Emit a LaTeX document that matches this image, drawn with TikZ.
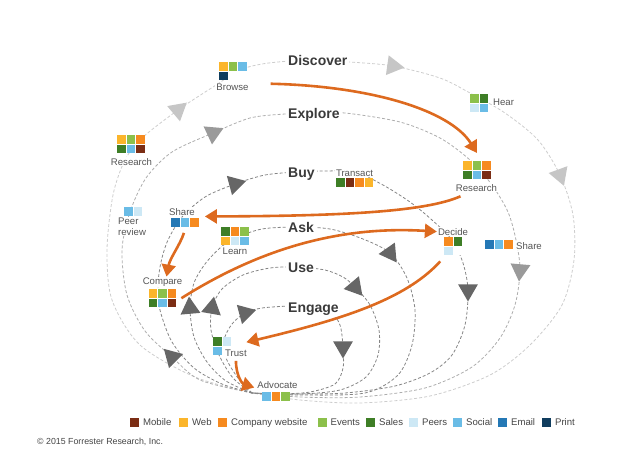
\documentclass[tikz,border=0pt]{standalone}
\usepackage{fontspec}
\setmainfont{Liberation Sans}
\usetikzlibrary{arrows.meta,shapes.geometric,calc,positioning}

\definecolor{cMobile}{HTML}{7B2D14}
\definecolor{cWeb}{HTML}{FBB52B}
\definecolor{cSite}{HTML}{F68A1F}
\definecolor{cEvents}{HTML}{8CC04B}
\definecolor{cSales}{HTML}{3E7E26}
\definecolor{cPeers}{HTML}{CDE8F5}
\definecolor{cSocial}{HTML}{6ABCE6}
\definecolor{cEmail}{HTML}{2478B5}
\definecolor{cPrint}{HTML}{103D5E}
\definecolor{flowOrange}{HTML}{DD6A1F}
\definecolor{lineA}{HTML}{CDCDCD}
\definecolor{lineB}{HTML}{ADADAD}
\definecolor{lineC}{HTML}{858585}
\definecolor{tipA}{HTML}{C6C6C6}
\definecolor{tipB}{HTML}{9A9A9A}
\definecolor{tipC}{HTML}{666666}
\definecolor{stageText}{HTML}{3A3A3A}
\definecolor{lblText}{HTML}{555555}
\definecolor{legText}{HTML}{444444}

\newcommand{\cellrow}[3]{%
  \foreach \cellcol [count=\cellno from 0] in {#3}
    {\fill[fill=\cellcol] ($(#1)+(9.5*\cellno,9.5*#2)$) rectangle ++(8.5,8.5);}}

\tikzset{
  loopA/.style={draw=lineA, line width=0.8pt, dash pattern=on 3pt off 2pt},
  loopB/.style={draw=lineB, line width=0.8pt, dash pattern=on 3pt off 2pt},
  loopC/.style={draw=lineC, line width=0.8pt, dash pattern=on 3pt off 2pt},
  loopArrow/.style={regular polygon, regular polygon sides=3, fill=#1, minimum size=23pt, inner sep=0pt},
  stage/.style={font=\fontsize{14}{16}\selectfont\bfseries, text=stageText, fill=white, inner sep=2pt, anchor=base west},
  lbl/.style={font=\fontsize{9.6}{10.5}\selectfont, text=lblText, fill=white, inner sep=1pt},
  iconbox/.style={fill=white, inner sep=0pt, anchor=north west},
  flow/.style={draw=flowOrange, line width=2.6pt, -{Triangle[length=12pt,width=14pt]}},
  legsq/.style={fill=#1, minimum size=9pt, inner sep=0pt, anchor=north west},
  legend/.style={font=\fontsize{9.6}{11}\selectfont, text=legText, inner sep=0pt, text height=7pt, text depth=2pt},
}

\begin{document}
\begin{tikzpicture}[x=1pt,y=-1pt]
\useasboundingbox (0,0) rectangle (637,461);

\draw[loopA] plot[smooth] coordinates {(252,393) (195,377) (140,345) (112,300) (107,250) (113,195) (125,160) (142,138) (178,110) (213,87) (240,70) (262,64) (290,61) (320,60) (350,62) (393,66) (440,78) (470,93) (505,113) (538,140) (560,175) (573,215) (574,260) (562,305) (530,345) (490,375) (430,396) (360,403) (300,400) (252,393)};
\draw[loopB] plot[smooth] coordinates {(252,393) (200,380) (172,357) (145,331) (127,295) (122,250) (130,212) (146,178) (172,152) (213,133) (250,118) (285,114) (312,113) (345,113) (400,122) (440,138) (470,160) (492,185) (508,212) (516,240) (520,270) (515,305) (500,338) (472,367) (425,388) (360,397) (300,397) (252,393)};
\draw[loopC] plot[smooth] coordinates {(252,393) (222,384) (194,368) (172,342) (160,310) (158,285) (161,262) (168,240) (182,217) (205,197) (235,184) (265,175) (297,172) (325,171) (355,172) (383,185) (410,202) (432,220) (452,240) (463,263) (468,290) (465,325) (452,355) (430,373) (395,386) (345,393) (295,394) (252,393)};
\draw[loopC] plot[smooth] coordinates {(252,393) (226,381) (207,362) (194,337) (190,308) (194,283) (205,264) (220,248) (235,238) (262,229) (296,227) (330,229) (363,239) (390,253) (407,278) (415,310) (412,345) (398,375) (365,393) (300,395) (252,393)};
\draw[loopC] plot[smooth] coordinates {(252,393) (233,378) (219,355) (211,330) (212,308) (222,289) (243,275) (270,268) (297,267) (325,270) (343,277) (355,287) (370,305) (379,330) (378,355) (366,377) (340,390) (300,394) (252,393)};
\draw[loopC] plot[smooth] coordinates {(252,393) (238,378) (226,358) (224,340) (232,324) (245,313) (262,308) (290,306) (311,306) (330,311) (340,325) (343,347) (343,368) (335,384) (310,392) (280,394) (252,393)};

\node[iconbox, minimum width=27.5pt, minimum height=18pt] (browseI) at (219,62) {};
\cellrow{browseI.north west}{0}{cWeb,cEvents,cSocial}
\cellrow{browseI.north west}{1}{cPrint}
\node[iconbox, minimum width=27.5pt, minimum height=18pt] (researchLI) at (117,135) {};
\cellrow{researchLI.north west}{0}{cWeb,cEvents,cSite}
\cellrow{researchLI.north west}{1}{cSales,cSocial,cMobile}
\node[iconbox, minimum width=18pt, minimum height=18pt] (hearI) at (470,94) {};
\cellrow{hearI.north west}{0}{cEvents,cSales}
\cellrow{hearI.north west}{1}{cPeers,cSocial}
\node[iconbox, minimum width=27.5pt, minimum height=18pt] (researchRI) at (463,161) {};
\cellrow{researchRI.north west}{0}{cWeb,cEvents,cSite}
\cellrow{researchRI.north west}{1}{cSales,cSocial,cMobile}
\node[iconbox, minimum width=37pt, minimum height=8.5pt] (transactI) at (336,178) {};
\cellrow{transactI.north west}{0}{cSales,cMobile,cSite,cWeb}
\node[iconbox, minimum width=18pt, minimum height=8.5pt] (peerI) at (124,207) {};
\cellrow{peerI.north west}{0}{cSocial,cPeers}
\node[iconbox, minimum width=27.5pt, minimum height=8.5pt] (shareLI) at (171,218) {};
\cellrow{shareLI.north west}{0}{cEmail,cSocial,cSite}
\node[iconbox, minimum width=27.5pt, minimum height=18pt] (learnI) at (221,227) {};
\cellrow{learnI.north west}{0}{cSales,cSite,cEvents}
\cellrow{learnI.north west}{1}{cWeb,cPeers,cSocial}
\node[iconbox, minimum width=27.5pt, minimum height=18pt] (compareI) at (148.5,289) {};
\cellrow{compareI.north west}{0}{cWeb,cEvents,cSite}
\cellrow{compareI.north west}{1}{cSales,cSocial,cMobile}
\node[iconbox, minimum width=18pt, minimum height=18pt] (decideI) at (444,237) {};
\cellrow{decideI.north west}{0}{cSite,cSales}
\cellrow{decideI.north west}{1}{cPeers}
\node[iconbox, minimum width=27.5pt, minimum height=8.5pt] (shareRI) at (485,240) {};
\cellrow{shareRI.north west}{0}{cEmail,cSocial,cSite}
\node[iconbox, minimum width=18pt, minimum height=18pt] (trustI) at (213,337) {};
\cellrow{trustI.north west}{0}{cSales,cPeers}
\cellrow{trustI.north west}{1}{cSocial}
\node[iconbox, minimum width=27.5pt, minimum height=8.5pt] (advocateI) at (262,392) {};
\cellrow{advocateI.north west}{0}{cSocial,cSite,cEvents}

\node[stage] (discover) at (286,65) {Discover};
\node[stage] (explore) at (286,118) {Explore};
\node[stage] (buy) at (286,177) {Buy};
\node[stage] (ask) at (286,232) {Ask};
\node[stage] (use) at (286,272) {Use};
\node[stage] (engage) at (286,312) {Engage};

\node[lbl, anchor=base] (browse) at (232.5,90.5) {Browse};
\node[lbl, anchor=base] (researchL) at (131.5,165) {Research};
\node[lbl, anchor=base west] (hear) at (492,105) {Hear};
\node[lbl, anchor=base] (researchR) at (476.5,191) {Research};
\node[lbl, anchor=base] (transact) at (354.5,176) {Transact};
\node[lbl, anchor=north west, align=left] (peer) at (117,217) {Peer\\review};
\node[lbl, anchor=base] (shareL) at (182,215) {Share};
\node[lbl, anchor=base] (learn) at (235,254) {Learn};
\node[lbl, anchor=base] (compare) at (162.5,284.5) {Compare};
\node[lbl, anchor=base] (decide) at (453,235) {Decide};
\node[lbl, anchor=base west] (shareR) at (515,249) {Share};
\node[lbl, anchor=base west] (trust) at (224,356.5) {Trust};
\node[lbl, anchor=base] (advocate) at (277.5,388) {Advocate};

\node[loopArrow=tipA, rotate=-98] (discTop) at (393,66) {};
\node[loopArrow=tipA, rotate=-50] (discLeft) at (178,110) {};
\node[loopArrow=tipA, rotate=-160] (discRight) at (560,175) {};
\node[loopArrow=tipB, rotate=-65] (explLeft) at (213,133) {};
\node[loopArrow=tipB, rotate=175] (explRight) at (520,270) {};
\node[loopArrow=tipC, rotate=45] (explLow) at (172,357) {};
\node[loopArrow=tipC, rotate=-75] (buyLeft) at (235,184) {};
\node[loopArrow=tipC, rotate=180] (buyRight) at (468,290) {};
\node[loopArrow=tipC, rotate=5] (askLeft) at (190,308) {};
\node[loopArrow=tipC, rotate=-145] (askRight) at (390,253) {};
\node[loopArrow=tipC, rotate=-10] (useLeft) at (212,308) {};
\node[loopArrow=tipC, rotate=-140] (useRight) at (355,287) {};
\node[loopArrow=tipC, rotate=165] (engLeft) at (245,313) {};
\node[loopArrow=tipC, rotate=180] (engRight) at (343,347) {};

\draw[flow] ([xshift=21pt,yshift=3.5pt]browse.east) .. controls (370,86) and (450,110) .. ([yshift=8pt]researchRI.north);
\draw[flow] ([xshift=-16pt,yshift=-4pt]researchR.south) .. controls (425,212) and (340,216) .. ([xshift=6pt,yshift=6pt]shareLI.east);
\draw[flow] ([xshift=-1pt,yshift=-6pt]shareLI.south) .. controls (180,245) and (170,258) .. ([xshift=4pt]compare.north);
\draw[flow] ([xshift=5pt]compareI.east) .. controls (250,255) and (330,225) .. (decide.west);
\draw[flow] ([xshift=-13pt,yshift=-6pt]decideI.south) .. controls (405,300) and (340,320) .. ([xshift=15pt,yshift=4pt]trustI.east);
\draw[flow] ([yshift=-3pt]trust.south) .. controls (236,377) and (243,384) .. ([xshift=-2pt,yshift=-3pt]advocate.west);

\node[legsq=cMobile] (sqMobile) at (130,418) {};
\node[legend, right=3.5pt of sqMobile] (lgMobile) {Mobile};
\node[legsq=cWeb] (sqWeb) at (179,418) {};
\node[legend, right=3.5pt of sqWeb] (lgWeb) {Web};
\node[legsq=cSite] (sqSite) at (218,418) {};
\node[legend, right=3.5pt of sqSite] (lgSite) {Company website};
\node[legsq=cEvents] (sqEvents) at (318,418) {};
\node[legend, right=3pt of sqEvents] (lgEvents) {Events};
\node[legsq=cSales] (sqSales) at (366,418) {};
\node[legend, right=3.5pt of sqSales] (lgSales) {Sales};
\node[legsq=cPeers] (sqPeers) at (409,418) {};
\node[legend, right=3.5pt of sqPeers] (lgPeers) {Peers};
\node[legsq=cSocial] (sqSocial) at (453,418) {};
\node[legend, right=3.5pt of sqSocial] (lgSocial) {Social};
\node[legsq=cEmail] (sqEmail) at (498,418) {};
\node[legend, right=3.5pt of sqEmail] (lgEmail) {Email};
\node[legsq=cPrint] (sqPrint) at (542,418) {};
\node[legend, right=3.5pt of sqPrint] (lgPrint) {Print};

\node[font=\fontsize{8.8}{10}\selectfont, text=legText, anchor=base west, inner sep=0pt] (copy) at (37,444) {© 2015 Forrester Research, Inc.};
\end{tikzpicture}
\end{document}
